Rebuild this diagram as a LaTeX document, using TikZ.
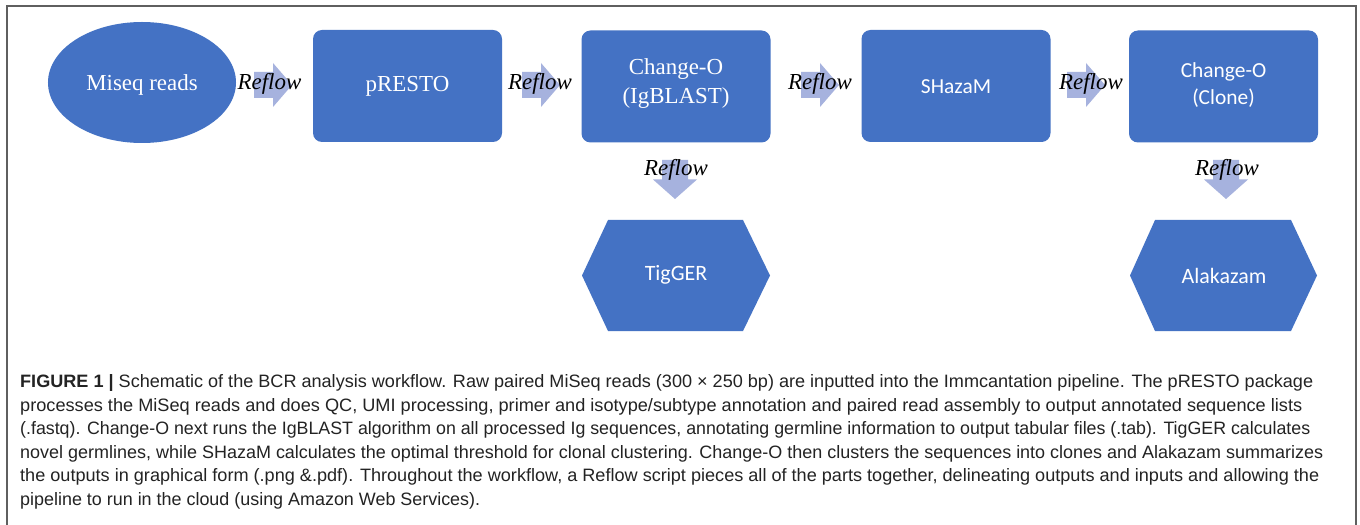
\documentclass[tikz,border=0pt]{standalone}
\usepackage{fontspec}
\usepackage{graphicx}
\usetikzlibrary{shapes.geometric}
\setmainfont{Liberation Serif}
\newfontfamily\calfont{Carlito}
\newfontfamily\capfont{Liberation Sans}
\definecolor{boxblue}{RGB}{68,114,196}
\definecolor{arrblue}{RGB}{166,178,222}
\definecolor{framegray}{RGB}{95,95,95}
\definecolor{captext}{RGB}{35,35,35}
\newcommand\capset{\capfont\fontsize{18}{23.5}\selectfont}
\newcommand\fitline[2]{\resizebox{#1bp}{\height}{#2}}
\begin{document}
\begin{tikzpicture}[x=1bp,y=-1bp,
  procbox/.style={fill=boxblue, rounded corners=9bp, minimum width=189bp, minimum height=112bp, inner sep=0pt},
  seriftxt/.style={text=white, align=center, inner sep=0pt, font=\fontsize{23}{29}\selectfont},
  caltxt/.style={text=white, align=center, inner sep=0pt, font=\calfont\fontsize{21.5}{28}\selectfont},
  hexfill/.style={fill=boxblue},
  flowarrow/.style={fill=arrblue},
  reflowtxt/.style={text=black, inner sep=0pt, font=\itshape\fontsize{23}{23}\selectfont},
  capline/.style={anchor=base west, inner sep=0pt, text=captext, font=\capset}
]
\useasboundingbox (0,0) rectangle (1360,525);
\fill[white] (0,0) rectangle (1360,525);
\draw[framegray, line width=1.4bp] (7,526) -- (7,6) -- (1356,6) -- (1356,526);

% main shapes
\node[ellipse, fill=boxblue, minimum width=188bp, minimum height=121bp, inner sep=0pt] (miseq) at (142,82.5) {};
\node[procbox] (presto) at (407.5,86) {};
\node[procbox] (chgo) at (676,86.5) {};
\node[procbox] (shazam) at (956,86) {};
\node[procbox] (clone) at (1223.5,86.5) {};

\node[seriftxt] (miseqt) at (142,85) {Miseq reads};
\node[seriftxt] (prestot) at (407.5,86) {pRESTO};
\node[seriftxt] (chgot) at (676,83.5) {Change-O\\(IgBLAST)};
\node[caltxt] (shazamt) at (956,87) {SHazaM};
\node[caltxt] (clonet) at (1223.5,85) {Change-O\\(Clone)};

% hexagons
\fill[hexfill] (582,275.5) -- (608,220) -- (743,220) -- (770,275.5) -- (743,331) -- (608,331) -- cycle;
\fill[hexfill] (1130,275.5) -- (1155,220) -- (1291,220) -- (1317,275.5) -- (1291,331) -- (1155,331) -- cycle;
\node[caltxt, font=\calfont\fontsize{22}{28}\selectfont] (tigger) at (676,275) {TigGER};
\node[caltxt, font=\calfont\fontsize{22}{28}\selectfont] (alaka) at (1224,276) {Alakazam};

% right-pointing reflow arrows
\foreach \cx in {273, 541, 820, 1086}{
  \fill[flowarrow, shift={(\cx,85)}] (-19,-13) -- (0,-13) -- (0,-22) -- (19,0) -- (0,22) -- (0,13) -- (-19,13) -- cycle;
}
% down-pointing reflow arrows
\foreach \cx in {675, 1226}{
  \fill[flowarrow, shift={(\cx,179.5)}] (-13,-19.5) -- (13,-19.5) -- (13,0) -- (22,0) -- (0,19.5) -- (-22,0) -- (-13,0) -- cycle;
}
\node[reflowtxt] (rfa) at (269.5,84) {Reflow};
\node[reflowtxt] (rfb) at (540,84) {Reflow};
\node[reflowtxt] (rfc) at (820,84) {Reflow};
\node[reflowtxt] (rfd) at (1091,84) {Reflow};
\node[reflowtxt] (rfe) at (676,170) {Reflow};
\node[reflowtxt] (rff) at (1227,170) {Reflow};

% caption
\node[capline] (cap1) at (20,387.5) {\fitline{1293}{\textbf{FIGURE 1 |} Schematic of the BCR analysis workflow. Raw paired MiSeq reads (300 × 250 bp) are inputted into the Immcantation pipeline. The pRESTO package}};
\node[capline] (cap2) at (20,411) {\fitline{1282}{processes the MiSeq reads and does QC, UMI processing, primer and isotype/subtype annotation and paired read assembly to output annotated sequence lists}};
\node[capline] (cap3) at (20,434.5) {\fitline{1290}{(.fastq). Change-O next runs the IgBLAST algorithm on all processed Ig sequences, annotating germline information to output tabular files (.tab). TigGER calculates}};
\node[capline] (cap4) at (20,458) {\fitline{1303}{novel germlines, while SHazaM calculates the optimal threshold for clonal clustering. Change-O then clusters the sequences into clones and Alakazam summarizes}};
\node[capline] (cap5) at (20,481.5) {\fitline{1299}{the outputs in graphical form (.png \&.pdf). Throughout the workflow, a Reflow script pieces all of the parts together, delineating outputs and inputs and allowing the}};
\node[capline] (cap6) at (20,505) {\fitline{460}{pipeline to run in the cloud (using Amazon Web Services).}};
\end{tikzpicture}
\end{document}
